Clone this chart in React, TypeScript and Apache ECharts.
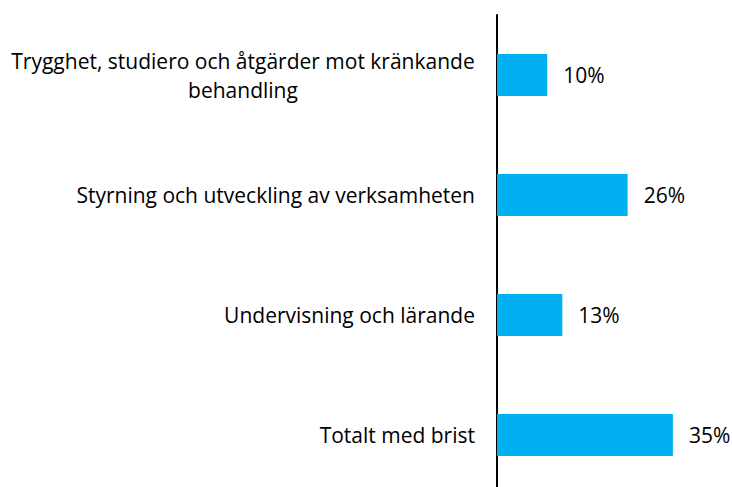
import React, { useEffect, useRef } from "react";
import * as echarts from "echarts";

const categories = [
  "Trygghet, studiero och åtgärder mot kränkande\nbehandling",
  "Styrning och utveckling av verksamheten",
  "Undervisning och lärande",
  "Totalt med brist",
];
const values = [10, 26, 13, 35];
const axisMax = 40;

const FONT = "'Open Sans', sans-serif";
const FONT_SIZE = 21;
const LINE_H = 29;

function measure(text: string): number {
  const c = document.createElement("canvas");
  const ctx = c.getContext("2d");
  if (!ctx) return text.length * 10;
  ctx.font = `${FONT_SIZE}px ${FONT}`;
  return ctx.measureText(text).width;
}

export default function App() {
  const ref = useRef<HTMLDivElement>(null);
  useEffect(() => {
    if (!ref.current) return;
    const chart = echarts.init(ref.current, undefined, { renderer: "svg" });
    const rich: Record<string, any> = {};
    categories.forEach((v) => {
      if (v.indexOf("\n") >= 0) {
        const w = Math.ceil(Math.max(...v.split("\n").map(measure)));
        rich["c" + w] = {
          width: w,
          align: "center",
          fontFamily: FONT,
          fontSize: FONT_SIZE,
          lineHeight: LINE_H,
          color: "#000000",
        };
      }
    });
    chart.setOption({
      animation: false,
      backgroundColor: "#ffffff",
      grid: { left: 497, top: 15, width: 201, height: 480, containLabel: false },
      xAxis: {
        type: "value",
        min: 0,
        max: axisMax,
        show: false,
      },
      yAxis: {
        type: "category",
        data: categories,
        inverse: true,
        axisLine: { show: true, lineStyle: { color: "#000000", width: 2 } },
        axisTick: { show: false },
        axisLabel: {
          margin: 22,
          color: "#000000",
          fontFamily: FONT,
          fontSize: FONT_SIZE,
          lineHeight: LINE_H,
          formatter: (v: string) => {
            if (v.indexOf("\n") < 0) return v;
            const lines = v.split("\n");
            const w = Math.ceil(Math.max(...lines.map(measure)));
            return lines.map((l) => `{c${w}|${l}}`).join("\n");
          },
          rich,
        },
      },
      series: [
        {
          type: "bar",
          data: values,
          barWidth: 42,
          itemStyle: { color: "#00B0F0" },
          label: {
            show: true,
            position: "right",
            distance: 16,
            formatter: (p: any) => `${p.value}%`,
            color: "#000000",
            fontFamily: FONT,
            fontSize: FONT_SIZE,
          },
        },
      ],
    });
    return () => chart.dispose();
  }, []);
  return (
    <div
      style={{
        position: "absolute",
        left: 0,
        top: 0,
        width: 732,
        height: 487,
        overflow: "hidden",
      }}
    >
      <div ref={ref} style={{ width: 732, height: 500 }} />
    </div>
  );
}
